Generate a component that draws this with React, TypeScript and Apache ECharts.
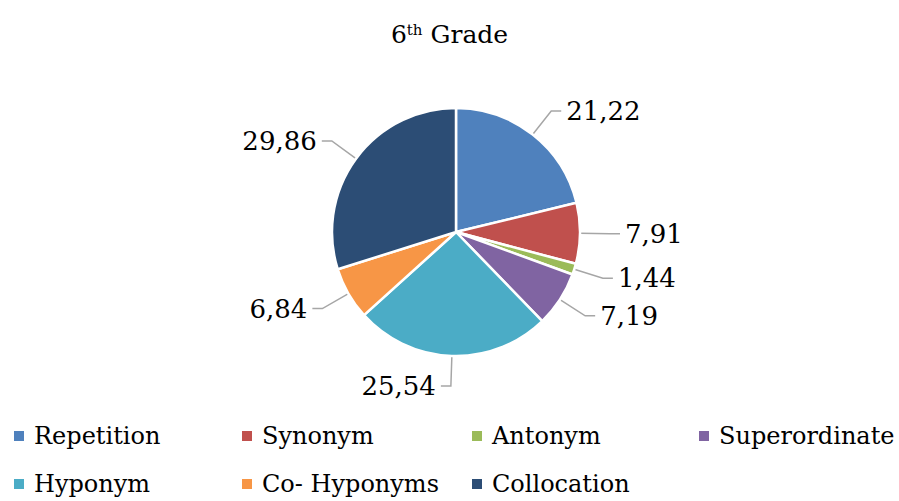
import React, { useEffect, useRef } from "react";
import * as echarts from "echarts";

const categories = ["Repetition", "Synonym", "Antonym", "Superordinate", "Hyponym", "Co- Hyponyms", "Collocation"];
const values = [21.22, 7.91, 1.44, 7.19, 25.54, 6.84, 29.86];
const colors = ["#4F81BD", "#C0504D", "#9BBB59", "#8064A2", "#4BACC6", "#F79646", "#2C4D75"];
const legendLeft = [12, 240, 470, 697, 12, 240, 470];
const legendTop = [424, 424, 424, 424, 472, 472, 472];

const FONT = "DejaVu Serif";

export default function App() {
  const ref = useRef<HTMLDivElement>(null);
  useEffect(() => {
    document.body.style.margin = "0";
    const chart = echarts.init(ref.current!, null, { renderer: "svg" });
    chart.setOption({
      animation: false,
      backgroundColor: "#ffffff",
      textStyle: { fontFamily: FONT },
      title: {
        text: "{n|6}{s|th}{n| Grade}",
        left: "center",
        top: 17,
        textStyle: {
          fontFamily: FONT,
          rich: {
            n: { fontFamily: FONT, fontSize: 25, color: "#000", fontWeight: "normal" },
            s: { fontFamily: FONT, fontSize: 15, color: "#000", fontWeight: "normal", verticalAlign: "top", padding: [0, 0, 10, 0] },
          },
        },
      },
      legend: categories.map((c, i) => ({
        data: [c],
        left: legendLeft[i],
        top: legendTop[i],
        icon: "rect",
        itemWidth: 12,
        itemHeight: 12,
        itemGap: 0,
        padding: 0,
        selectedMode: false,
        textStyle: { fontFamily: FONT, fontSize: 24, color: "#000", padding: [0, 0, 0, 4] },
      })),
      series: [
        {
          type: "pie",
          center: [456, 232],
          radius: 124,
          startAngle: 90,
          clockwise: true,
          data: categories.map((c, i) => ({ name: c, value: values[i], itemStyle: { color: colors[i] } })),
          itemStyle: { borderColor: "#fff", borderWidth: 2.5 },
          label: {
            show: true,
            position: "outside",
            fontFamily: FONT,
            fontSize: 26,
            color: "#000",
            padding: [0, 0, 14, 0],
            formatter: (p: any) => p.value.toFixed(2).replace(".", ","),
          },
          labelLine: {
            show: true,
            length: 30,
            length2: 10,
            lineStyle: { color: "#A6A6A6", width: 1.5 },
          },
        },
      ],
    });
    return () => chart.dispose();
  }, []);
  return <div ref={ref} style={{ width: 899, height: 501, position: "fixed", left: 0, top: 0 }} />;
}
